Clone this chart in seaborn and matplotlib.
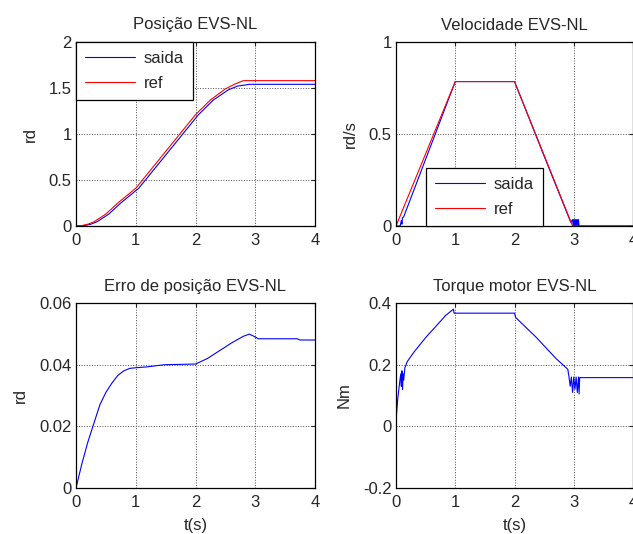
import numpy as np
import pandas as pd
import seaborn as sns
import matplotlib.pyplot as plt

# values
t_pos_ref = [0, 0.1, 0.2, 0.3, 0.5, 0.7, 1.0, 1.25, 1.5, 1.75, 2.0, 2.25, 2.5, 2.65, 2.8, 4.0]
pos_ref = [0.0, 0.005, 0.02, 0.045, 0.13, 0.25, 0.41, 0.61, 0.81, 1.01, 1.21, 1.37, 1.49, 1.54, 1.58, 1.58]
t_pos_out = [0, 0.15, 0.25, 0.35, 0.55, 0.75, 1.05, 1.3, 1.55, 1.8, 2.05, 2.3, 2.55, 2.7, 2.9, 4.0]
pos_out = [0.0, 0.005, 0.02, 0.045, 0.13, 0.25, 0.41, 0.61, 0.81, 1.01, 1.21, 1.37, 1.48, 1.52, 1.54, 1.54]

t_vel_ref = [0, 1.0, 2.0, 2.98, 4.0]
vel_ref = [0.0, 0.785, 0.785, 0.0, 0.0]
t_vel_out = [0, 0.07, 0.09, 0.1, 0.11, 0.13, 1.0, 2.0, 2.5, 2.95, 2.98, 2.99, 3.0, 3.01, 3.02, 3.03,
             3.04, 3.05, 3.06, 3.07, 3.08, 3.09, 4.0]
vel_out = [0.0, 0.0, 0.03, 0.01, 0.045, 0.05, 0.785, 0.785, 0.38, 0.02, 0.035, 0.0, 0.035, 0.0,
           0.035, 0.0, 0.035, 0.0, 0.035, 0.0, 0.035, 0.0, 0.0]

t_err = [0, 0.1, 0.2, 0.3, 0.4, 0.5, 0.6, 0.7, 0.8, 0.9, 1.0, 1.2, 1.4, 1.5, 2.0, 2.2, 2.4, 2.6,
         2.8, 2.9, 3.0, 3.05, 3.7, 3.75, 4.0]
err = [0.0, 0.008, 0.015, 0.021, 0.027, 0.031, 0.034, 0.0365, 0.038, 0.0388, 0.039, 0.0393,
       0.0398, 0.040, 0.0402, 0.042, 0.0445, 0.047, 0.0492, 0.0499, 0.049, 0.0484, 0.0484,
       0.048, 0.048]

t_tq = [0, 0.03, 0.06, 0.08, 0.09, 0.1, 0.11, 0.12, 0.13, 0.15, 0.19, 0.3, 0.51, 0.7, 0.84,
        0.97, 0.98, 2.0, 2.02, 2.36, 2.7, 2.9, 2.92, 2.94, 2.96, 2.98, 3.0, 3.02, 3.04, 3.06,
        3.08, 3.09, 3.1, 4.0]
tq = [0.02, 0.09, 0.14, 0.17, 0.13, 0.18, 0.12, 0.17, 0.15, 0.19, 0.21, 0.24, 0.29, 0.33,
      0.36, 0.38, 0.367, 0.367, 0.353, 0.29, 0.22, 0.185, 0.16, 0.13, 0.16, 0.11, 0.16, 0.12,
      0.16, 0.11, 0.16, 0.105, 0.158, 0.158]

sns.set_style("white")
plt.rcParams['font.family'] = ['Liberation Sans', 'DejaVu Sans']
plt.rcParams['font.size'] = 12

fig = plt.figure(figsize=(6.33, 5.34), dpi=100)
ax1 = fig.add_axes([76 / 633, 1 - 226 / 534, 239 / 633, 184 / 534])
ax2 = fig.add_axes([396 / 633, 1 - 226 / 534, 237 / 633, 184 / 534])
ax3 = fig.add_axes([76 / 633, 1 - 488 / 534, 239 / 633, 185 / 534])
ax4 = fig.add_axes([396 / 633, 1 - 488 / 534, 237 / 633, 185 / 534])

blue = '#0000ff'
red = '#ff0000'
lw = 0.8

sns.lineplot(x=t_pos_out, y=pos_out, ax=ax1, color=blue, lw=lw, label='saida')
sns.lineplot(x=t_pos_ref, y=pos_ref, ax=ax1, color=red, lw=lw, label='ref')
sns.lineplot(x=t_vel_out, y=vel_out, ax=ax2, color=blue, lw=lw, label='saida')
sns.lineplot(x=t_vel_ref, y=vel_ref, ax=ax2, color=red, lw=lw, label='ref')
sns.lineplot(x=t_err, y=err, ax=ax3, color=blue, lw=lw)
sns.lineplot(x=t_tq, y=tq, ax=ax4, color=blue, lw=lw)

setup = [
    (ax1, 'Posição EVS-NL', 'rd', (0, 2), [0, 0.5, 1, 1.5, 2], ['0', '0.5', '1', '1.5', '2']),
    (ax2, 'Velocidade EVS-NL', 'rd/s', (0, 1), [0, 0.5, 1], ['0', '0.5', '1']),
    (ax3, 'Erro de posição EVS-NL', 'rd', (0, 0.06), [0, 0.02, 0.04, 0.06],
     ['0', '0.02', '0.04', '0.06']),
    (ax4, 'Torque motor EVS-NL', 'Nm', (-0.2, 0.4), [-0.2, 0, 0.2, 0.4],
     ['-0.2', '0', '0.2', '0.4']),
]
for ax, title, ylab, ylim, yt, ytl in setup:
    ax.set_xlim(0, 4)
    ax.set_ylim(*ylim)
    ax.set_xticks([0, 1, 2, 3, 4])
    ax.set_xticklabels(['0', '1', '2', '3', '4'])
    ax.set_yticks(yt)
    ax.set_yticklabels(ytl)
    ax.set_title(title, fontsize=12, pad=9)
    ax.set_ylabel(ylab, fontsize=12, labelpad=8)
    ax.grid(True, ls=':', color='0.3', lw=0.7)
    ax.tick_params(direction='in', top=True, right=True, length=3, width=0.8,
                   labelsize=12, pad=3)
    ax.tick_params(axis='x', pad=5)
    for s in ax.spines.values():
        s.set_color('black')
        s.set_linewidth(0.9)

ax3.set_xlabel('t(s)', fontsize=12, labelpad=6)
ax4.set_xlabel('t(s)', fontsize=12, labelpad=6)

for ax, loc, anchor in [(ax1, 'upper left', (0, 1)), (ax2, 'lower left', (0.127, 0))]:
    leg = ax.legend(loc=loc, bbox_to_anchor=anchor, fancybox=False, framealpha=1,
                    edgecolor='black', fontsize=12, handlelength=3.0, handletextpad=0.5,
                    borderpad=0.55, labelspacing=0.6, borderaxespad=0)
    leg.get_frame().set_linewidth(0.9)

fig.savefig('out.png', dpi=100)
